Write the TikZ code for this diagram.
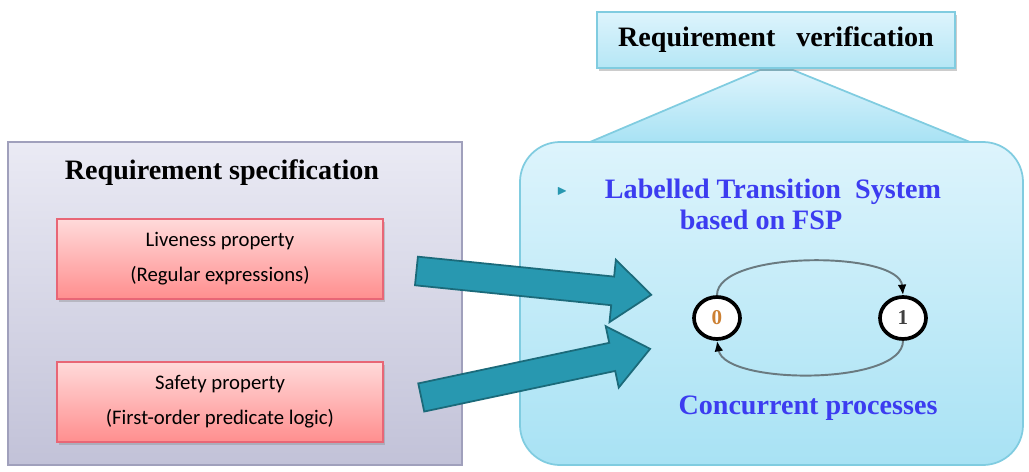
\documentclass[tikz,border=0pt]{standalone}
\usepackage{fontspec}
\usepackage{amssymb}
\setmainfont{Liberation Serif}
\newfontfamily\calfont{Carlito}
\usetikzlibrary{shapes.arrows,shapes.geometric,shadows,arrows.meta,positioning}
\newcommand\pxu{0.02cm}
\definecolor{specline}{HTML}{A0A0BC}
\definecolor{spectop}{HTML}{EAEAF4}
\definecolor{specbot}{HTML}{C2C2D8}
\definecolor{pinkline}{HTML}{E86676}
\definecolor{pinktop}{HTML}{FFDADA}
\definecolor{pinkbot}{HTML}{FF8E8E}
\definecolor{cyanline}{HTML}{80CCE0}
\definecolor{ltstop}{HTML}{DDF4FC}
\definecolor{ltsbot}{HTML}{A8E2F4}
\definecolor{tealfill}{HTML}{2898B0}
\definecolor{tealline}{HTML}{1B6A7A}
\definecolor{ltsblue}{HTML}{3C3CF0}
\definecolor{stategray}{HTML}{6A7A80}

\begin{document}
\begin{tikzpicture}[x=\pxu,y=-\pxu,
  specpanel/.style={draw=specline, line width=1pt, top color=spectop, bottom color=specbot,
    minimum width=454*\pxu, minimum height=323*\pxu, inner sep=0pt},
  propbox/.style={draw=pinkline, line width=1pt, top color=pinktop, bottom color=pinkbot,
    drop shadow={shadow xshift=1pt, shadow yshift=-1.5pt, opacity=.35},
    minimum width=326*\pxu, minimum height=80*\pxu, align=center, font=\calfont\fontsize{11.8}{14}\selectfont},
  title/.style={font=\bfseries\fontsize{16}{19}\selectfont},
  bluetext/.style={font=\bfseries\fontsize{16}{19}\selectfont, text=ltsblue, align=center},
  blockarrow/.style={single arrow, draw=tealline, fill=tealfill, line width=1pt, inner xsep=0pt,
    inner ysep=13.5*\pxu, minimum width=60*\pxu, single arrow head extend=17*\pxu,
    single arrow tip angle=78, single arrow head indent=0pt},
  state/.style={ellipse, draw=black, line width=2.1pt, fill=white, minimum width=46*\pxu,
    minimum height=42*\pxu, inner sep=0pt, font=\bfseries\large},
  trans/.style={draw=stategray, line width=1.1pt, -{Latex[length=6pt,width=5pt,color=black]}}
]
\useasboundingbox (0,0) rectangle (1029,471);

% left side: specification
\node[specpanel] (spec) at (235,303.5) {};
\node[title] at (222,173) {Requirement specification};
\node[propbox] (live) at (220,259) {Liveness property\\[6pt](Regular expressions)};
\node[propbox] (safe) at (220,402) {Safety property\\[6pt](First-order predicate logic)};

% right side: verification
\fill[top color=ltstop, bottom color=ltsbot] (760,70) -- (793,70) -- (970,142) -- (590,142) -- cycle;
\draw[cyanline, line width=1pt] (590,142) -- (760,70) -- (793,70) -- (970,142) -- cycle;
\node[draw=cyanline, line width=1pt, rounded corners=0.8cm, top color=ltstop, bottom color=ltsbot,
  minimum width=503*\pxu, minimum height=323*\pxu] (lts) at (771.5,303.5) {};
\node[draw=cyanline, line width=1.2pt, top color=ltstop, bottom color=ltsbot!85,
  drop shadow={shadow xshift=1pt, shadow yshift=-1.5pt, opacity=.4},
  minimum width=358*\pxu, minimum height=56*\pxu, title] (verif) at (776,40) {Requirement\ \ \ verification};

\node[text=tealfill, font=\scriptsize] at (562,191) {$\blacktriangleright$};
\node[bluetext] (ltstitle) at (773,192) {Labelled Transition\ \ System};
\node[bluetext] at (761,220) {based on FSP};
\node[bluetext] (conc) at (808,408) {Concurrent processes};

% states
\node[state, text=brown!80!orange] (s0) at (717,318) {0};
\node[state, text=black!75] (s1) at (903,318) {1};
\draw[trans] (s0.north) to[out=90, in=95, looseness=0.62] (s1.north);
\draw[trans] (s1.south) to[out=-90, in=-80, looseness=0.62] (s0.south);

% block arrows
\node[blockarrow, minimum height=236*\pxu, rotate=-5.8] (a1) at (525,282) {};
\node[blockarrow, minimum height=234*\pxu, rotate=12] (a2) at (527,375) {};
\end{tikzpicture}
\end{document}
